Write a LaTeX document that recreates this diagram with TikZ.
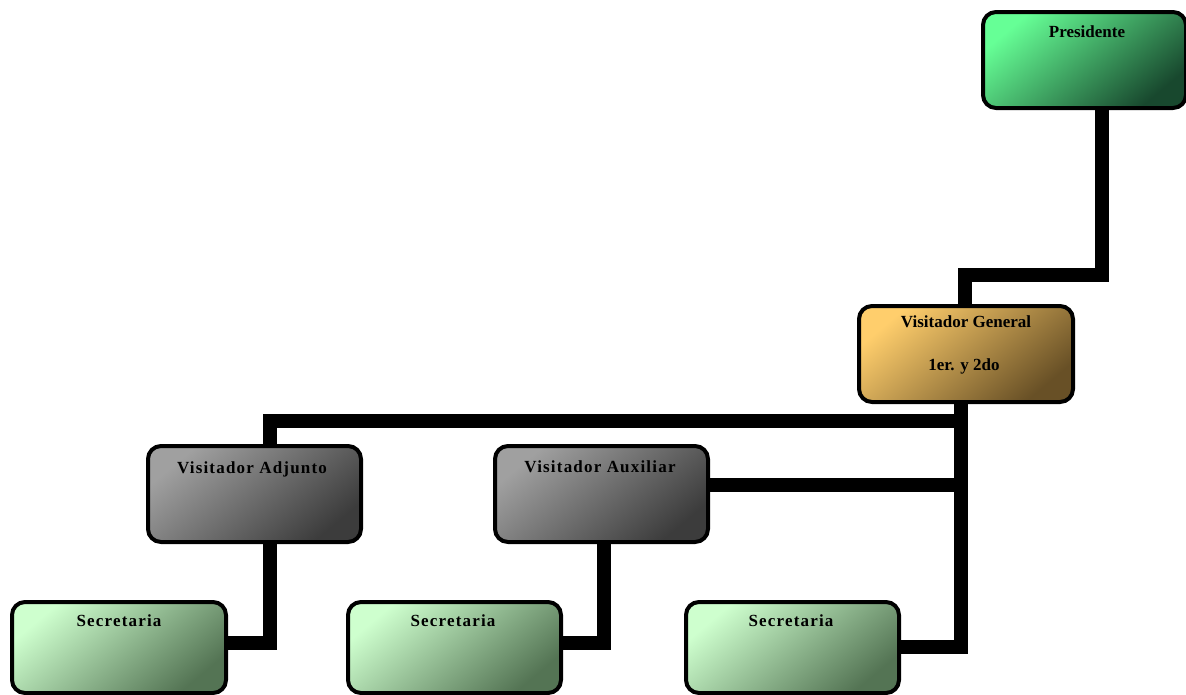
\documentclass[tikz,border=0pt]{standalone}
\usepackage{fontspec}
\usetikzlibrary{backgrounds}
\setmainfont{Liberation Serif}
\newfontfamily\spacedfont[LetterSpace=7]{Liberation Serif}
\begin{document}
\begin{tikzpicture}[x=1pt,y=-1pt,
  box/.style={draw=black, line width=4pt, rounded corners=13pt, anchor=north west, inner sep=0pt},
  presbox/.style={box, left color={rgb,255:red,102;green,255;blue,150}, right color={rgb,255:red,24;green,72;blue,46}, shading angle=40},
  genbox/.style={box, left color={rgb,255:red,255;green,206;blue,108}, right color={rgb,255:red,104;green,80;blue,38}, shading angle=40},
  visbox/.style={box, left color={rgb,255:red,160;green,160;blue,160}, right color={rgb,255:red,60;green,60;blue,60}, shading angle=40},
  secbox/.style={box, left color={rgb,255:red,206;green,255;blue,206}, right color={rgb,255:red,84;green,116;blue,84}, shading angle=40},
  title/.style={font=\bfseries\fontsize{17}{20}\selectfont, anchor=base, inner sep=0pt},
  stitle/.style={font=\spacedfont\bfseries\fontsize{17}{20}\selectfont, anchor=base, inner sep=0pt},
  conn/.style={line width=14pt, line join=miter, line cap=butt}]
\useasboundingbox (0,0) rectangle (1186,694);

% boxes
\node[presbox, minimum width=203pt, minimum height=96pt] (pres) at (981,10) {};
\node[genbox, minimum width=214pt, minimum height=96pt] (gen) at (857,304) {};
\node[visbox, minimum width=213pt, minimum height=96pt] (adj) at (146,444) {};
\node[visbox, minimum width=213pt, minimum height=96pt] (aux) at (493,444) {};
\node[secbox, minimum width=214pt, minimum height=91pt] (sec1) at (10,600) {};
\node[secbox, minimum width=213pt, minimum height=91pt] (sec2) at (346,600) {};
\node[secbox, minimum width=213pt, minimum height=91pt] (sec3) at (684,600) {};

% junction points of the connectors
\coordinate (p1) at (1102,274.5);
\coordinate (g1) at (965,274.5);
\coordinate (t1) at (961,421);
\coordinate (t2) at (961,647);
\coordinate (a1) at (270,421);
\coordinate (a2) at (270,643);
\coordinate (x1) at (604,643);
\coordinate (x2) at (961,484.5);

% connectors, behind the boxes
\begin{scope}[on background layer]
\draw[conn] (pres.south -| p1) -- (p1) -- (g1) -- (gen.north -| g1);
\draw[conn] (gen.south -| t1) -- (t2) -- (sec3.east |- t2);
\draw[conn] (t1) -- (a1) -- (adj.north -| a1);
\draw[conn] (aux.east |- x2) -- (x2);
\draw[conn] (adj.south -| a2) -- (a2) -- (sec1.east |- a2);
\draw[conn] (aux.south -| x1) -- (x1) -- (sec2.east |- x1);
\end{scope}

% texts
\node[title] (pres-t) at (1087,37) {Presidente};
\node[title] (gen-t1) at (966,327) {Visitador General};
\node[title] (gen-t2) at (964,370) {1er. y 2do};
\node[stitle] (adj-t) at (252,473) {Visitador Adjunto};
\node[stitle] (aux-t) at (600,472) {Visitador Auxiliar};
\node[stitle] (sec1-t) at (119,626) {Secretaria};
\node[stitle] (sec2-t) at (453,626) {Secretaria};
\node[stitle] (sec3-t) at (791,626) {Secretaria};
\end{tikzpicture}
\end{document}
